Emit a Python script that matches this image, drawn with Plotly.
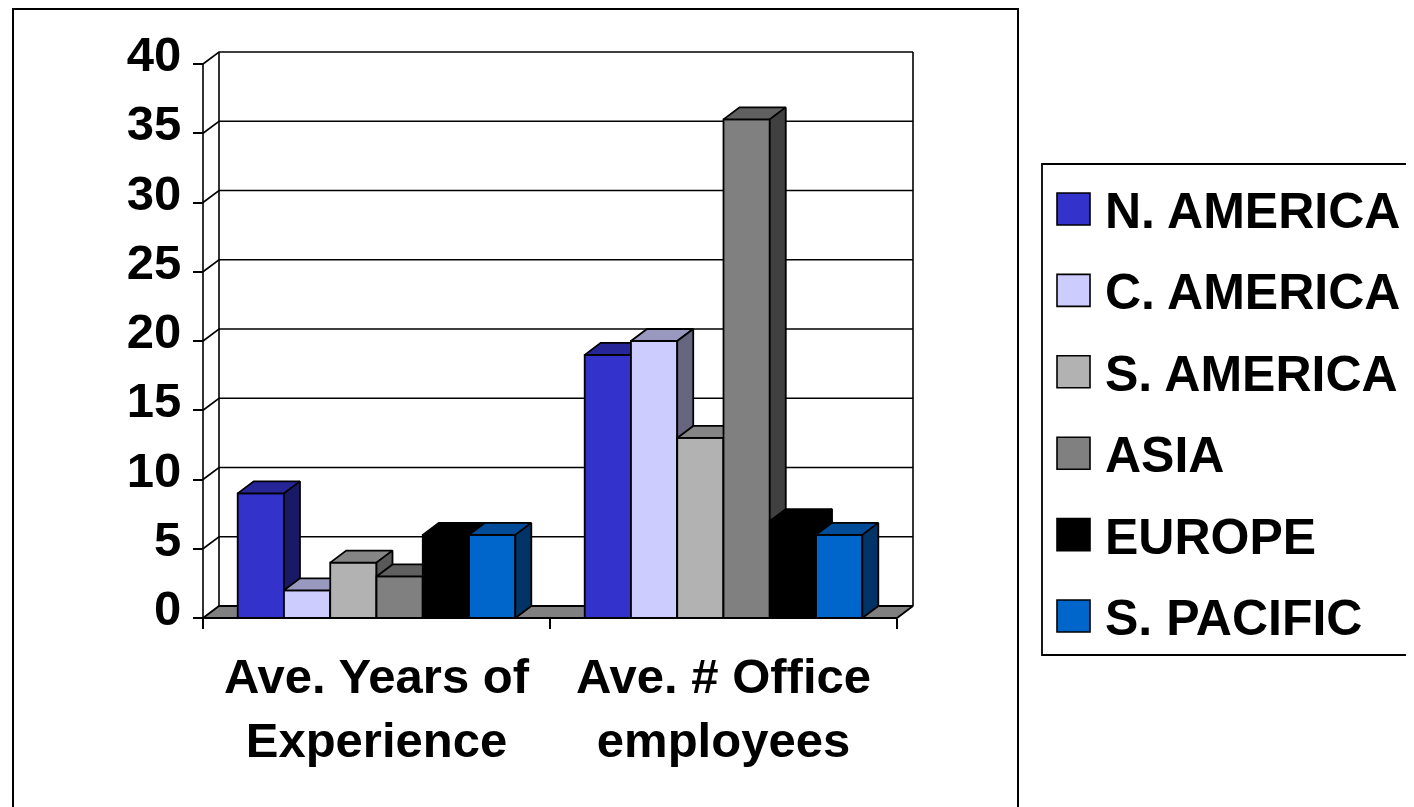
import plotly.graph_objects as go

# ---------------- data ----------------
categories = ["Ave. Years of<br>Experience", "Ave. # Office<br>employees"]
regions = ["N. AMERICA", "C. AMERICA", "S. AMERICA", "ASIA", "EUROPE", "S. PACIFIC"]
years_experience = [9, 2, 4, 3, 6, 6]
office_employees = [19, 20, 13, 36, 7, 6]
y_ticks = [0, 5, 10, 15, 20, 25, 30, 35, 40]
colors = ["#3333CC", "#CCCCFF", "#B2B2B2", "#808080", "#000000", "#0066CC"]

series = [[years_experience[i], office_employees[i]] for i in range(len(regions))]

# ---------------- geometry ----------------
W, H = 1414, 807
OFF = 8                    # page body margin
X0, Y0 = 203 - OFF, 618 - OFF   # pixel of data (0,0) inside figure
PX_X, PX_Y = 347.0, 13.85  # pixels per data unit
DEPTH_X, DEPTH_Y = 16, 12  # 3-D depth in pixels
DX, DY = DEPTH_X / PX_X, DEPTH_Y / PX_Y
L, R, T, B = 199 - OFF, 916 - OFF, 48 - OFF, 622 - OFF   # plot area box (pixels)
PW, PH = R - L, B - T

FONT = "Liberation Sans, Arial, sans-serif"
FS = 49
LW = 1.8


def px2paper_x(px):
    return (px - OFF - L) / PW


def px2paper_y(py):
    return (B - (py - OFF)) / PH


def shade(hex_color, f):
    h = hex_color.lstrip("#")
    r, g, b = (int(h[i:i + 2], 16) for i in (0, 2, 4))
    return "#%02X%02X%02X" % (int(r * f), int(g * f), int(b * f))


fig = go.Figure()


def poly(xs, ys, fill=None, lw=LW, color="black"):
    xs = list(xs) + [xs[0]]
    ys = list(ys) + [ys[0]]
    fig.add_trace(go.Scatter(
        x=xs, y=ys, mode="lines",
        fill="toself" if fill else None,
        fillcolor=fill,
        line=dict(color=color, width=lw),
        hoverinfo="skip", showlegend=False))


def line(xs, ys, lw=1.6):
    fig.add_trace(go.Scatter(x=xs, y=ys, mode="lines",
                             line=dict(color="black", width=lw),
                             hoverinfo="skip", showlegend=False))


n_cat = len(categories)
ymax = y_ticks[-1]

# back wall gridlines (with diagonal from front axis)
for v in y_ticks[1:]:
    line([0, DX, n_cat + DX], [v, v + DY, v + DY])
# back wall edges
line([DX, DX], [DY, ymax + DY])
line([n_cat + DX, n_cat + DX], [DY, ymax + DY])
# front value axis
line([0, 0], [0, ymax])

# floor
poly([0, n_cat, n_cat + DX, DX], [0, 0, DY, DY], fill="#808080")

# bars (painter's order, left to right)
gap = 0.1
bw = (1 - 2 * gap) / len(regions)
for c in range(n_cat):
    for j, name in enumerate(regions):
        v = series[j][c]
        col = colors[j]
        x0 = c + gap + j * bw
        x1 = x0 + bw
        # front
        poly([x0, x1, x1, x0], [0, 0, v, v], fill=col)
        # top
        poly([x0, x1, x1 + DX, x0 + DX], [v, v, v + DY, v + DY], fill=shade(col, 0.75))
        # side
        poly([x1, x1 + DX, x1 + DX, x1], [0, DY, v + DY, v], fill=shade(col, 0.5))

# ---------------- layout ----------------
x_range = [(L - X0) / PX_X, (R - X0) / PX_X]
y_range = [(Y0 - B) / PX_Y, (Y0 - T) / PX_Y]

fig.update_layout(
    width=W, height=H,
    margin=dict(l=L, r=W - R, t=T, b=H - B, pad=0),
    paper_bgcolor="white", plot_bgcolor="rgba(0,0,0,0)",
    showlegend=False,
    font=dict(family=FONT, size=FS, color="black", weight="bold"),
    xaxis=dict(
        range=x_range, anchor="free", position=(B - Y0) / PH,
        tickmode="array", tickvals=[c + 0.5 for c in range(n_cat)], ticktext=categories,
        ticks="", showgrid=False, zeroline=False, showline=False,
        tickfont=dict(family=FONT, size=FS, color="black", weight="bold"),
        ticklabelstandoff=25,
        minor=dict(tickmode="array", tickvals=list(range(n_cat + 1)), ticks="outside",
                   ticklen=10, tickwidth=1.6, tickcolor="black", showgrid=False),
        fixedrange=True,
    ),
    yaxis=dict(
        range=y_range, anchor="free", position=(X0 - L) / PW,
        tickmode="array", tickvals=y_ticks,
        ticks="outside", ticklen=10, tickwidth=1.6, tickcolor="black",
        showgrid=False, zeroline=False, showline=False,
        tickfont=dict(family=FONT, size=FS, color="black", weight="bold"),
        ticklabelstandoff=2, ticklabelshift=-10,
        fixedrange=True,
    ),
)

shapes = []
annotations = []
# outer chart border
shapes.append(dict(type="rect", xref="paper", yref="paper",
                   x0=px2paper_x(13), x1=px2paper_x(1018),
                   y0=px2paper_y(840), y1=px2paper_y(9),
                   line=dict(color="black", width=2), fillcolor="rgba(0,0,0,0)", layer="below"))
# legend box
shapes.append(dict(type="rect", xref="paper", yref="paper",
                   x0=px2paper_x(1042), x1=px2paper_x(1440),
                   y0=px2paper_y(655), y1=px2paper_y(164),
                   line=dict(color="black", width=1.8), fillcolor="white", layer="below"))
leg_y0, leg_step = 209, 81.4
for j, name in enumerate(regions):
    cy = leg_y0 + j * leg_step
    shapes.append(dict(type="rect", xref="paper", yref="paper",
                       x0=px2paper_x(1057), x1=px2paper_x(1090),
                       y0=px2paper_y(cy + 16), y1=px2paper_y(cy - 16),
                       line=dict(color="black", width=1.6), fillcolor=colors[j]))
    annotations.append(dict(xref="paper", yref="paper",
                            x=px2paper_x(1103), y=px2paper_y(cy + 2),
                            xanchor="left", yanchor="middle", showarrow=False,
                            text=name,
                            font=dict(family=FONT, size=50, color="black", weight="bold")))

fig.update_layout(shapes=shapes, annotations=annotations)

fig.write_html("out.html")
